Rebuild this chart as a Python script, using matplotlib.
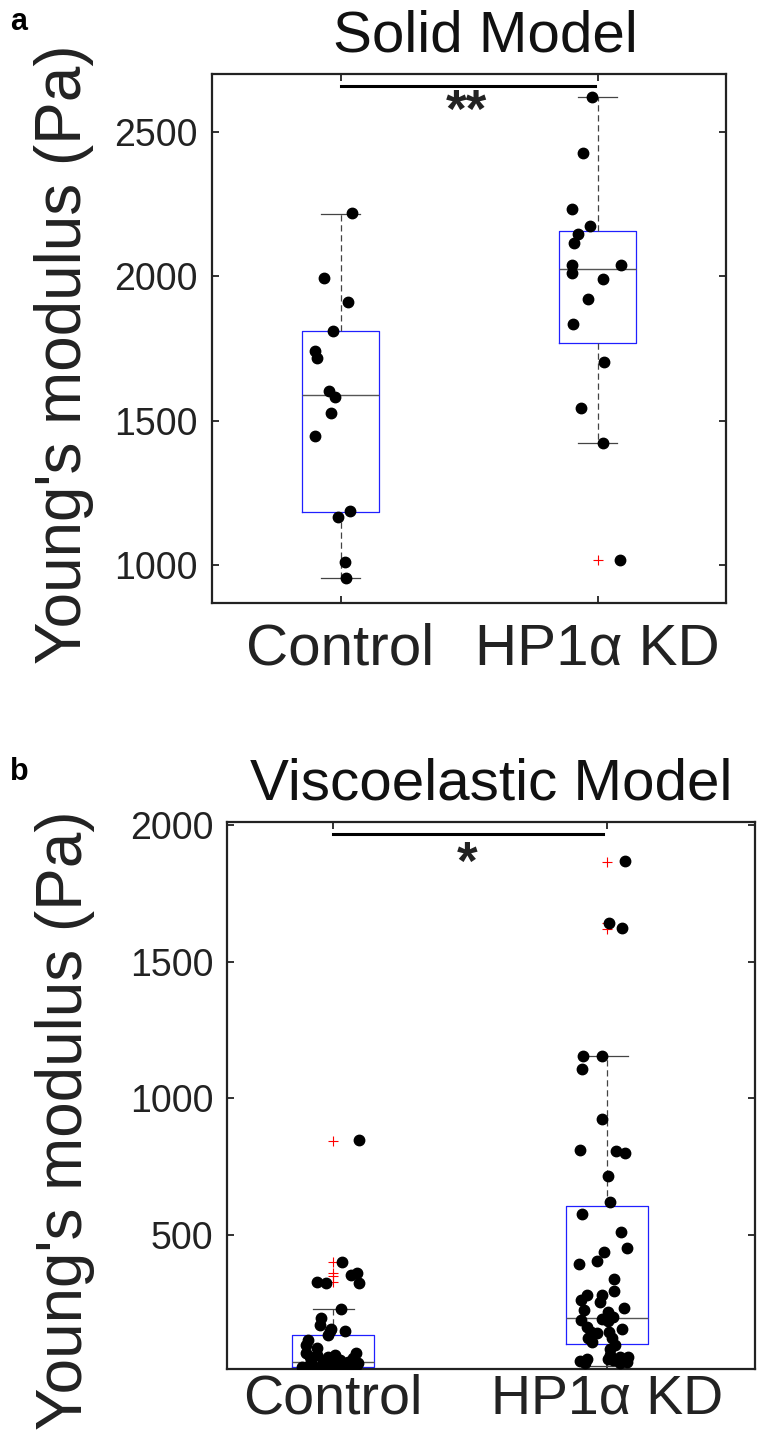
import numpy as np
import matplotlib.pyplot as plt

plt.rcParams['font.family'] = ['Liberation Sans', 'DejaVu Sans']

groups = ['Control', 'HP1α KD']

# --- panel a: solid model ---
solid_control = [2219, 1995, 1912, 1811, 1743, 1719, 1602, 1582, 1529, 1449,
                 1187, 1166, 1012, 957]
solid_control_jit = [0.044, -0.065, 0.031, -0.029, -0.101, -0.093, -0.043, -0.020,
                     -0.038, -0.100, 0.038, -0.010, 0.018, 0.021]
solid_kd = [2620, 2428, 2232, 2173, 2145, 2116, 2039, 2039, 2013, 1990, 1921,
            1835, 1703, 1543, 1423, 1018]
solid_kd_jit = [-0.021, -0.057, -0.098, -0.030, -0.077, -0.090, -0.098, 0.093,
                -0.098, 0.020, -0.036, -0.097, 0.025, -0.065, 0.020, 0.088]
solid_q1 = [1185, 1768]
solid_med = [1589, 2025]
solid_q3 = [1810, 2158]
solid_wlo = [955, 1423]
solid_whi = [2217, 2620]
solid_fliers = [[], [1018]]

# --- panel b: viscoelastic model ---
visco_control = [847, 400, 355, 360, 325, 327, 324, 228, 195, 171, 148, 149, 133,
                 117, 99, 70, 88, 62, 55, 62, 43, 68, 50, 32, 19, 19, 19, 19, 19,
                 14, 25, 37, 37, 32, 55, 37, 157, 19, 22, 16]
visco_control_jit = [0.095, 0.032, 0.064, 0.089, 0.096, -0.060, -0.025, 0.029,
                     -0.043, -0.049, -0.011, 0.044, -0.018, -0.091, -0.099, -0.099,
                     -0.060, -0.058, -0.018, 0.007, 0.026, 0.084, 0.073, 0.091,
                     -0.096, -0.073, -0.047, -0.023, 0.0, 0.026, 0.062, -0.080,
                     -0.036, -0.005, -0.084, 0.055, -0.007, 0.050, 0.085, -0.115]
visco_kd = [1868, 1643, 1623, 1156, 1156, 1109, 924, 813, 808, 799, 716, 621, 576,
            513, 452, 438, 406, 394, 339, 297, 279, 280, 263, 255, 233, 226, 218,
            202, 190, 193, 184, 165, 157, 147, 141, 147, 123, 110, 123, 98, 82, 62,
            55, 40, 46, 31, 46, 31, 53, 35, 44]
visco_kd_jit = [0.067, 0.006, 0.054, -0.089, -0.020, -0.093, -0.020, -0.100, 0.034,
                0.067, 0.003, 0.009, -0.092, 0.052, 0.072, -0.011, -0.038, -0.102,
                0.024, 0.024, -0.075, -0.019, -0.095, -0.026, 0.063, -0.083, 0.005,
                0.023, -0.095, -0.017, 0.005, -0.075, 0.054, -0.060, -0.038, 0.008,
                -0.068, -0.056, 0.017, 0.029, 0.011, 0.011, 0.047, -0.099, -0.075,
                -0.080, 0.005, 0.047, 0.078, 0.072, 0.023]
visco_q1 = [17, 101]
visco_med = [37, 197]
visco_q3 = [133, 608]
visco_wlo = [10, 21]
visco_whi = [228, 1156]
visco_fliers = [[845, 400, 360, 352, 328], [1865, 1643, 1620]]


def draw_panel(ax, vals, jits, q1, med, q3, wlo, whi, fliers, ylim, xlim, yticks,
               bar_y, bar_x2, star, star_y, xpad, xsize):
    stats = []
    for i in range(2):
        stats.append(dict(q1=q1[i], med=med[i], q3=q3[i], whislo=wlo[i],
                          whishi=whi[i], fliers=fliers[i]))
    ax.bxp(stats, positions=[1, 2], widths=0.3, capwidths=0.15, showfliers=True,
           boxprops=dict(color='#2020ff', lw=0.9),
           medianprops=dict(color='#555555', lw=1.0),
           whiskerprops=dict(color='#444444', lw=0.9, linestyle=(0, (5, 3))),
           capprops=dict(color='#444444', lw=0.9),
           flierprops=dict(marker='+', markeredgecolor='red', markersize=7,
                           markeredgewidth=0.8))
    for i in range(2):
        ax.plot(i + 1 + np.array(jits[i]), vals[i], 'o', color='black', ms=7.5,
                zorder=5)
    ax.plot([1, bar_x2], [bar_y, bar_y], color='black', lw=2.2)
    ax.text(1.49, star_y, star, ha='center', va='center', fontsize=38,
            fontweight='bold', color='#222222')
    ax.set_xlim(*xlim)
    ax.set_ylim(*ylim)
    ax.set_yticks(yticks)
    ax.set_xticks([1, 2])
    ax.set_xticklabels(groups, fontsize=xsize, color='#222222')
    ax.tick_params(axis='y', labelsize=27, labelcolor='#222222')
    ax.tick_params(direction='in', top=True, right=True, length=5, width=1.3,
                   color='#222222')
    ax.tick_params(axis='x', pad=xpad)
    ax.tick_params(axis='y', pad=10)
    for s in ax.spines.values():
        s.set_linewidth(1.6)
        s.set_color('#222222')


fig = plt.figure(figsize=(7.58, 14.32), dpi=100)
ax1 = fig.add_axes([0.2797, 0.5789, 0.6781, 0.3694])
ax2 = fig.add_axes([0.2995, 0.0440, 0.6966, 0.3820])

draw_panel(ax1, [solid_control, solid_kd], [solid_control_jit, solid_kd_jit],
           solid_q1, solid_med, solid_q3, solid_wlo, solid_whi, solid_fliers,
           (870, 2700), (0.5, 2.5), [1000, 1500, 2000, 2500],
           2658, 1.99, '**', 2565, 14, 42)
draw_panel(ax2, [visco_control, visco_kd], [visco_control_jit, visco_kd_jit],
           visco_q1, visco_med, visco_q3, visco_wlo, visco_whi, visco_fliers,
           (10, 2012), (0.613, 2.54), [500, 1000, 1500, 2000],
           1968, 1.985, '*', 1855, 3, 40)

fig.text(485 / 758, 1 - 52 / 1432, 'Solid Model', ha='center', va='baseline',
         fontsize=42, color='#111111')
fig.text(491 / 758, 1 - 800 / 1432, 'Viscoelastic Model', ha='center',
         va='baseline', fontsize=42, color='#111111')
ax1.set_ylabel("Young's modulus (Pa)", fontsize=46, color='#222222')
ax2.set_ylabel("Young's modulus (Pa)", fontsize=46, color='#222222')
ax1.yaxis.set_label_coords(-0.23, 0.47)
ax2.yaxis.set_label_coords(-0.25, 0.455)
fig.text(10 / 758, 1 - 30 / 1432, 'a', fontsize=22, fontweight='bold')
fig.text(10 / 758, 1 - 780 / 1432, 'b', fontsize=22, fontweight='bold')

fig.savefig('out.png', dpi=100)
